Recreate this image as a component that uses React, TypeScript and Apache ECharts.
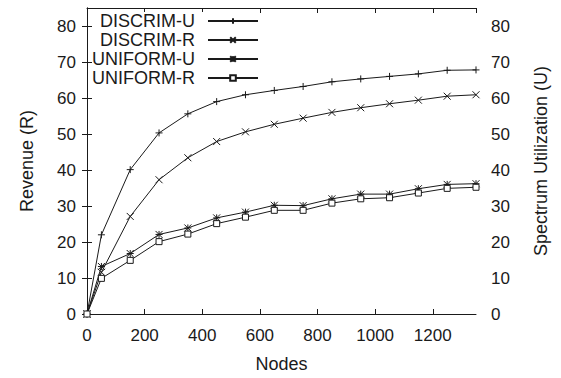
import React, { useEffect, useRef } from "react";
import * as echarts from "echarts";

const nodes = [0, 50, 150, 250, 350, 450, 550, 650, 750, 850, 950, 1050, 1150, 1250, 1350];
const discrimU = [0, 22.0, 40.1, 50.3, 55.6, 59.0, 60.9, 62.1, 63.2, 64.5, 65.3, 66.0, 66.7, 67.7, 67.8];
const discrimR = [0, 11.6, 27.1, 37.3, 43.4, 47.9, 50.6, 52.7, 54.4, 56.0, 57.3, 58.4, 59.4, 60.5, 60.9];
const uniformU = [0, 13.2, 16.8, 22.1, 23.9, 26.7, 28.3, 30.2, 30.1, 32.0, 33.3, 33.3, 34.8, 36.0, 36.2];
const uniformR = [0, 9.9, 14.9, 20.1, 22.2, 25.1, 26.9, 28.8, 28.8, 30.8, 32.0, 32.3, 33.6, 34.9, 35.2];
const seriesNames = ["DISCRIM-U", "DISCRIM-R", "UNIFORM-U", "UNIFORM-R"];

const FONT = "'Liberation Sans', Arial, Helvetica, sans-serif";
const INK = "#1a1a1a";

export default function App() {
  const ref = useRef<HTMLDivElement>(null);
  useEffect(() => {
    if (!ref.current) return;
    const chart = echarts.init(ref.current, undefined, { renderer: "svg" });
    const pair = (ys: number[]) => nodes.map((x, i) => [x, ys[i]]);
    const symbols = [
      "path://M0,5L10,5M5,0L5,10",
      "path://M0,0L10,10M10,0L0,10",
      "path://M0,0L10,10M10,0L0,10M0,5L10,5M5,0L5,10",
      "path://M0,0L10,0L10,10L0,10Z",
    ];
    const datas = [discrimU, discrimR, uniformU, uniformR];
    const series = datas.map((d, i) => ({
      name: seriesNames[i],
      type: "line",
      data: pair(d),
      symbol: symbols[i],
      symbolSize: i === 3 ? 6 : 7,
      showAllSymbol: true,
      lineStyle: { color: INK, width: 1 },
      itemStyle: { color: i === 3 ? "#fff" : INK, borderColor: INK, borderWidth: 1 },
      z: 2,
    }));
    const valAxisCommon = {
      type: "value",
      min: 0,
      max: 85,
      interval: 10,
      splitLine: { show: false },
      axisLine: { show: true, lineStyle: { color: INK, width: 1 } },
      axisTick: { show: true, inside: true, length: 5, lineStyle: { color: INK } },
      nameLocation: "middle",
      nameTextStyle: { fontFamily: FONT, fontSize: 18, color: INK },
    };
    chart.setOption({
      animation: false,
      grid: { left: 87, right: 85, top: 8, bottom: 60 },
      legend: {
        data: seriesNames,
        orient: "vertical",
        right: 302,
        top: 12,
        align: "right",
        itemWidth: 50,
        itemHeight: 7,
        itemGap: 1,
        backgroundColor: "#fff",
        padding: [0, 0, 0, 0],
        textStyle: { fontFamily: FONT, fontSize: 18, color: INK, padding: [0, 8, 0, 0] },
      },
      xAxis: [
        {
          type: "value",
          min: 0,
          max: 1350,
          interval: 200,
          name: "Nodes",
          nameLocation: "middle",
          nameGap: 41,
          nameTextStyle: { fontFamily: FONT, fontSize: 18, color: INK },
          splitLine: { show: false },
          axisLine: { show: true, onZero: false, lineStyle: { color: INK } },
          axisTick: { show: true, inside: true, length: 5, lineStyle: { color: INK } },
          axisLabel: {
            fontFamily: FONT,
            fontSize: 17,
            color: INK,
            margin: 13,
            showMaxLabel: false,
            formatter: (v: number) => String(v),
          },
        },
        {
          type: "value",
          position: "top",
          min: 0,
          max: 1350,
          interval: 200,
          splitLine: { show: false },
          axisLine: { show: true, onZero: false, lineStyle: { color: INK } },
          axisTick: { show: true, inside: true, length: 5, lineStyle: { color: INK } },
          axisLabel: { show: false },
        },
      ],
      yAxis: [
        {
          ...valAxisCommon,
          position: "left",
          name: "Revenue (R)",
          nameGap: 51,
          axisLabel: { fontFamily: FONT, fontSize: 17, color: INK, margin: 11, showMaxLabel: false },
        },
        {
          ...valAxisCommon,
          position: "right",
          name: "Spectrum Utilization (U)",
          nameGap: 56,
          axisLabel: { fontFamily: FONT, fontSize: 17, color: INK, margin: 15, showMaxLabel: false },
        },
      ],
      series,
    });
    return () => chart.dispose();
  }, []);
  return <div ref={ref} style={{ width: 561, height: 378, position: "absolute", left: 0, top: 0 }} />;
}
